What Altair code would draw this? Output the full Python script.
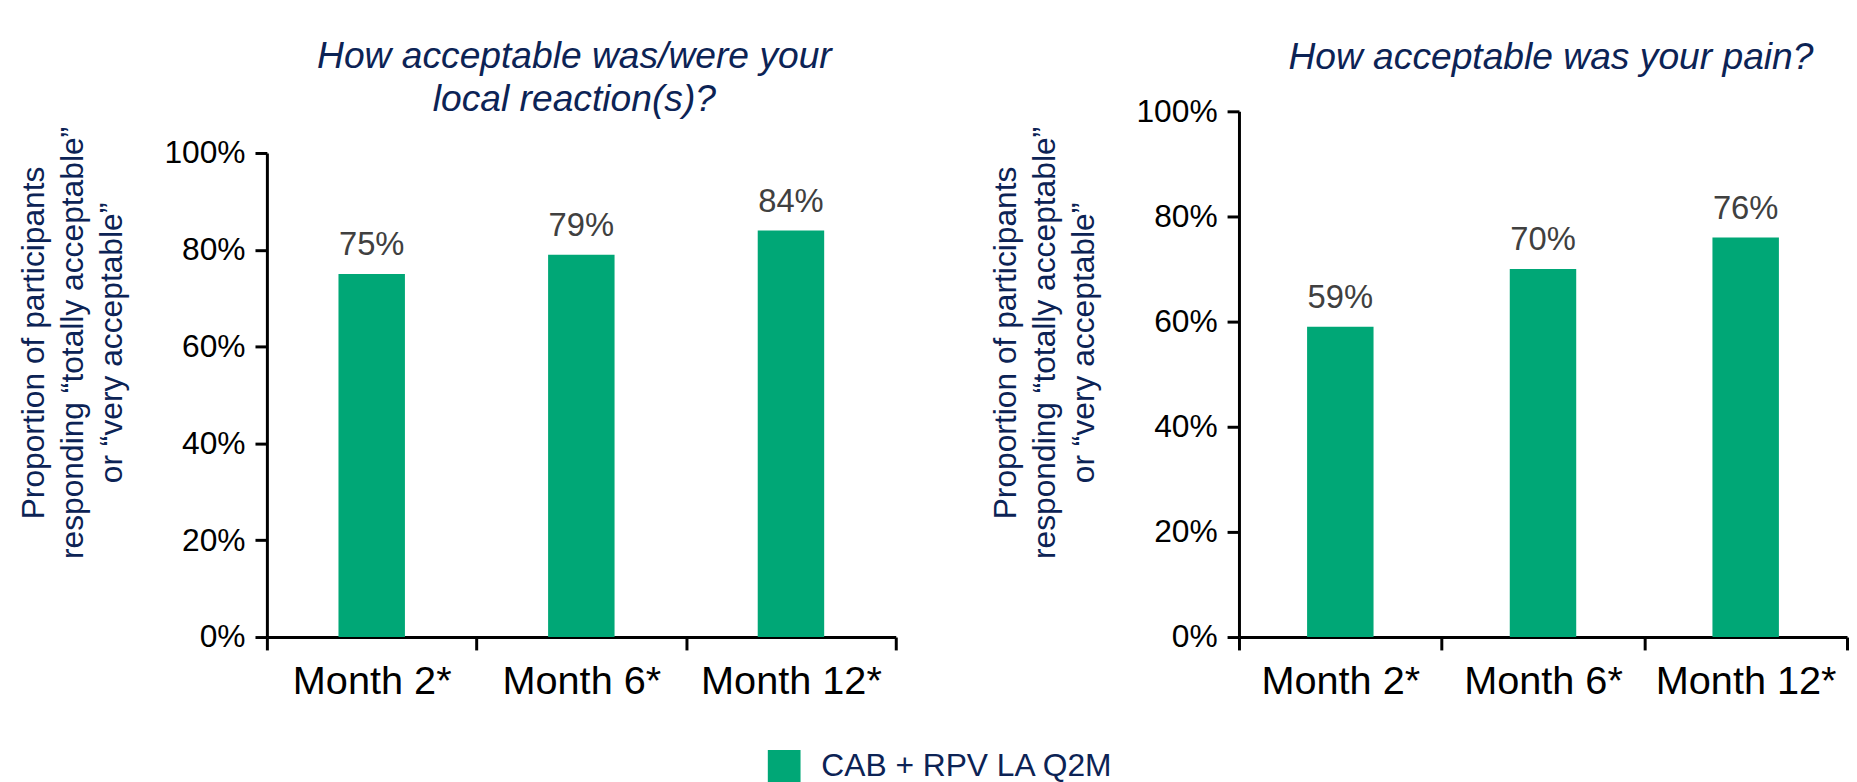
import altair as alt
import pandas as pd

# ---- data ----
categories = ["Month 2*", "Month 6*", "Month 12*"]
local_reaction = [0.75, 0.79, 0.84]
pain = [0.59, 0.70, 0.76]
series_name = "CAB + RPV LA Q2M"
y_ticks = [0, 0.2, 0.4, 0.6, 0.8, 1.0]

title_left = ["How acceptable was/were your", "local reaction(s)?"]
title_right = "How acceptable was your pain?"
y_title = ["Proportion of participants", "responding \u201ctotally acceptable\u201d", "or \u201cvery acceptable\u201d"]

NAVY = "#0C2355"
GREEN = "#00A776"
FONT = "Liberation Sans"
PAD_LEFT = 9
PAD_TOP = 27
H = 530


def panel(values, title, width, y_range, title_dx, title_dy, show_legend):
    df = pd.DataFrame({"month": categories, "value": values, "series": [series_name] * len(categories)})
    base = alt.Chart(df)
    x = alt.X(
        "month:N", sort=categories, title=None,
        scale=alt.Scale(paddingInner=0, paddingOuter=0),
        axis=alt.Axis(labelAngle=0, labelFontSize=40, labelColor="black", labelFont=FONT, labelLimit=400,
                      tickBand="extent", tickSize=13, tickWidth=3, tickColor="black",
                      domainColor="black", domainWidth=3, labelPadding=12, grid=False),
    )
    y = alt.Y(
        "value:Q", scale=alt.Scale(domain=[0, 1], range=y_range), title=y_title,
        axis=alt.Axis(values=y_ticks, format=".0%", labelFontSize=32, labelColor="black", labelFont=FONT,
                      tickSize=12, tickWidth=3, tickColor="black", domainColor="black", domainWidth=3,
                      labelPadding=10, grid=False,
                      titleFont=FONT, titleFontSize=32, titleColor=NAVY, titleFontWeight="normal",
                      titleAngle=270, titleBaseline="top", titleAlign="center",
                      titleX=-250, titleY=233, titleLineHeight=39),
    )
    legend = alt.Legend(
        title=None, orient="none", legendX=505, legendY=644, direction="horizontal",
        symbolType="square", symbolSize=1089, symbolStrokeWidth=0, symbolOpacity=1,
        labelFontSize=32, labelColor=NAVY, labelFont=FONT, labelOffset=21, labelLimit=500, padding=0,
    ) if show_legend else None
    color = alt.Color("series:N", scale=alt.Scale(domain=[series_name], range=[GREEN]), legend=legend)
    bars = base.mark_bar(width=67).encode(x=x, y=y, color=color)
    labels = base.mark_text(baseline="alphabetic", dy=-19, fontSize=33, font=FONT, color="#404040").encode(
        x=alt.X("month:N", sort=categories),
        y=alt.Y("value:Q"),
        text=alt.Text("value:Q", format=".0%"),
    )
    return alt.layer(bars, labels).properties(
        width=width, height=H,
        title=alt.TitleParams(title, fontSize=37.5, fontStyle="italic", fontWeight="normal", color=NAVY,
                              font=FONT, anchor="middle", baseline="bottom", offset=0, dx=title_dx,
                              dy=title_dy, lineHeight=43),
    )


left = panel(local_reaction, title_left, 634, [H, 42], -7, 45, True)
right = panel(pain, title_right, 613, [H, 0], 8, 19, False)

chart = alt.hconcat(left, right, spacing=92).properties(
    padding={"left": PAD_LEFT, "top": PAD_TOP, "right": 0, "bottom": 0}
).configure_view(stroke=None)

chart.save("out.html", embed_options={"renderer": "svg", "actions": False})
